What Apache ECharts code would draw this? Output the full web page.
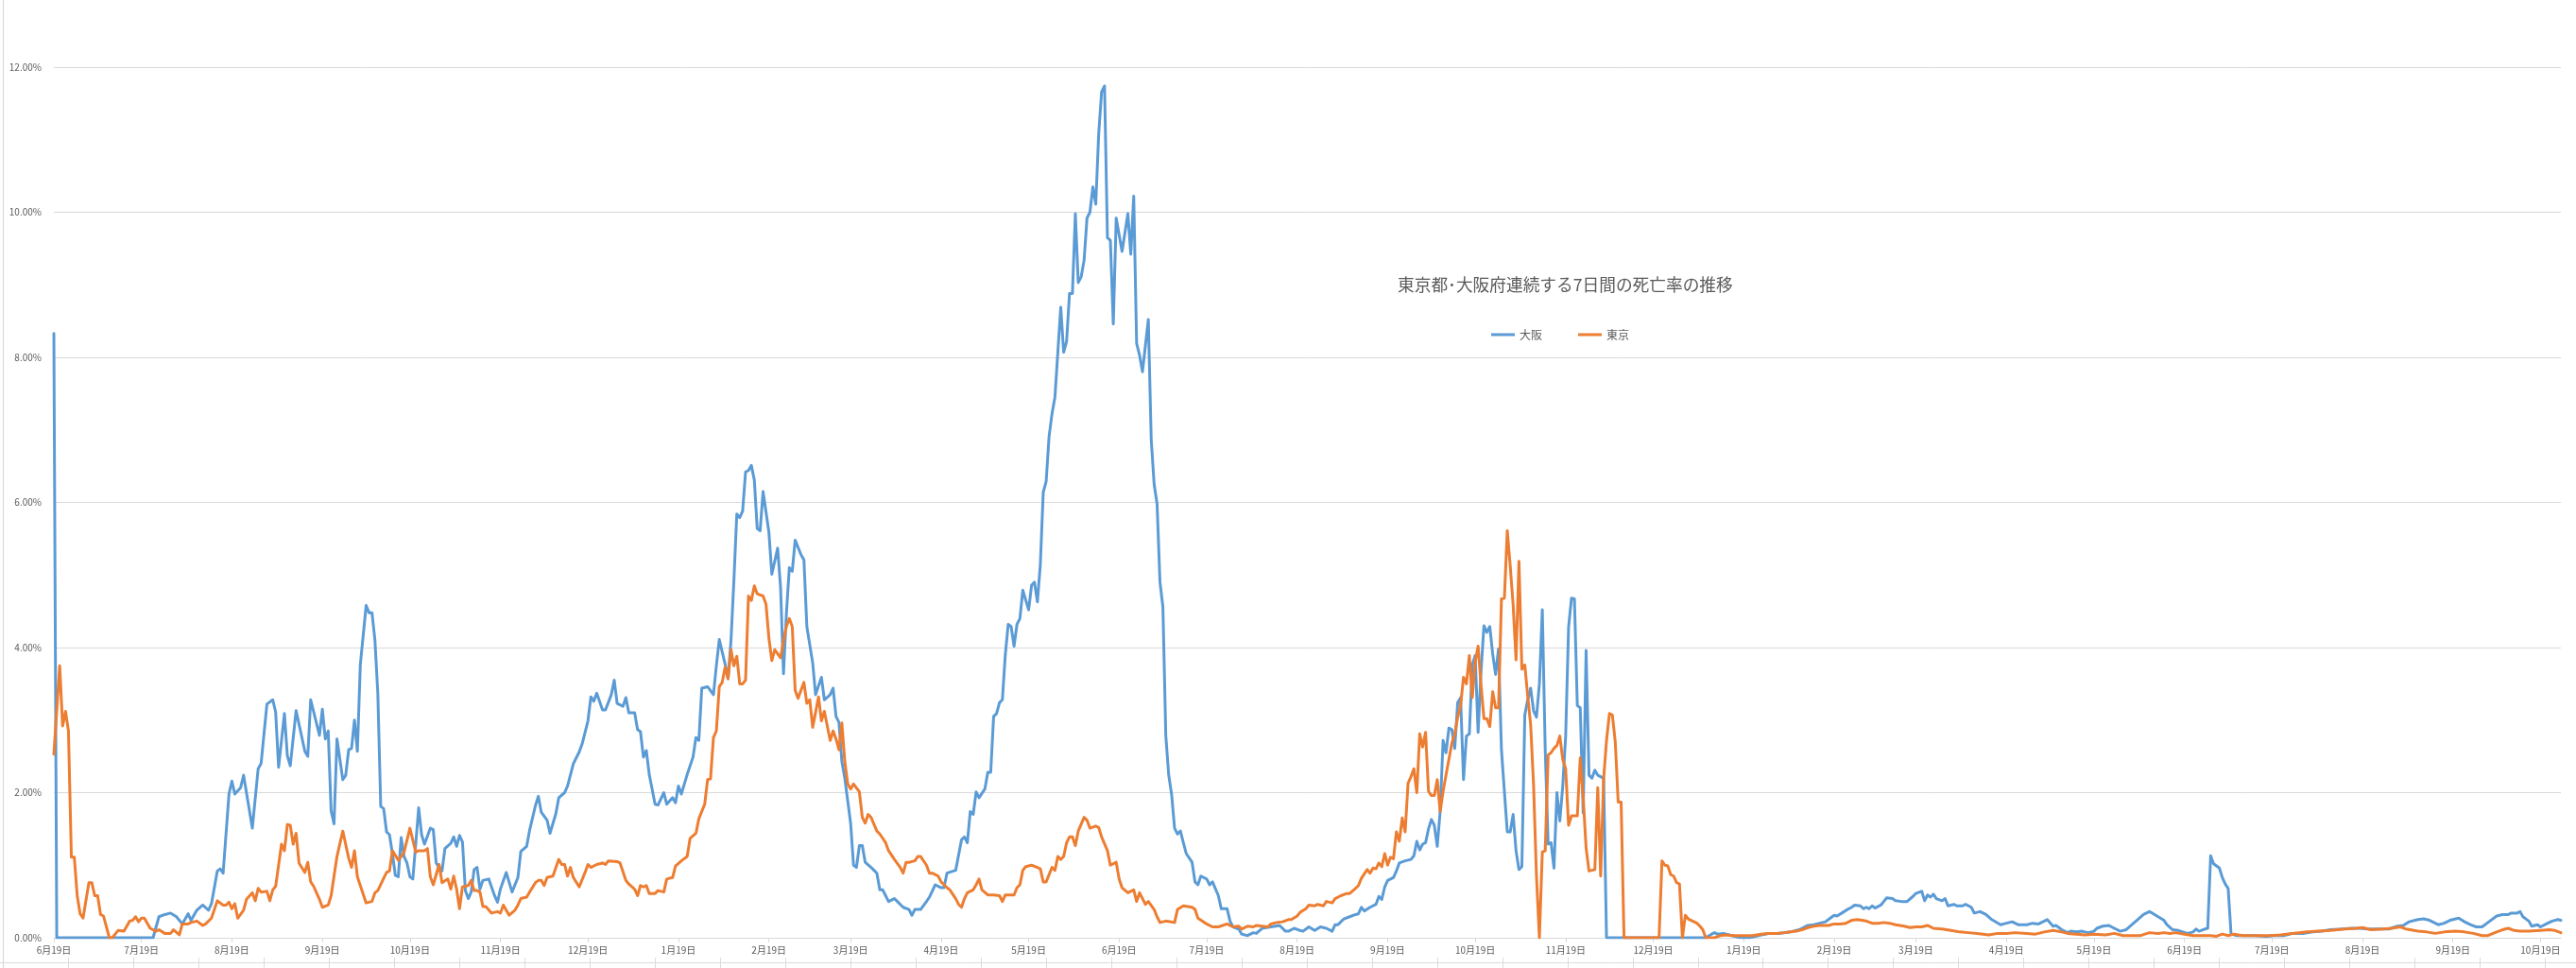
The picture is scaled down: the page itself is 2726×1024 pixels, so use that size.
<!DOCTYPE html>
<html>
<head>
<meta charset="utf-8">
<script src="https://cdn.jsdelivr.net/npm/echarts@6/dist/echarts.min.js"></script>
<style>
html,body{margin:0;padding:0;background:#ffffff;}
#chart{width:2726px;height:1024px;}
</style>
</head>
<body>
<div id="chart"></div>
<script>
// ---- data ----
const titleText = '東京都･大阪府連続する7日間の死亡率の推移';
const seriesNames = ['大阪', '東京'];
const startYear = 2020, startMonth = 6, startDay = 19;   // first date of the axis
const dayCount = 860;                                      // daily categories
const yTickValues = [0, 2, 4, 6, 8, 10, 12];               // percent

// [day index from 2020-06-19, rate in %]
const osakaPoints = [
[0,8.33],[1,0],[34,0],[36,0.29],[38,0.32],[40,0.34],[42,0.29],[44,0.19],[46,0.33],[47,0.24],[49,0.38],[51,0.45],[53,0.38],[54,0.47],[56,0.92],[57,0.95],[58,0.89],[60,1.98],[61,2.16],[62,1.98],[64,2.07],[65,2.24],[68,1.51],[70,2.33],[71,2.40],[73,3.22],[75,3.28],[76,3.11],[77,2.35],[79,3.09],[80,2.51],[81,2.37],[83,3.13],[86,2.57],[87,2.50],[88,3.28],[91,2.79],[92,3.15],[93,2.74],[94,2.85],[95,1.75],[96,1.57],[97,2.74],[99,2.18],[100,2.24],[101,2.59],[102,2.61],[103,3.00],[104,2.57],[105,3.76],[107,4.58],[108,4.48],[109,4.48],[110,4.11],[111,3.37],[112,1.81],[113,1.78],[114,1.46],[115,1.42],[116,1.16],[117,0.86],[118,0.84],[119,1.38],[120,1.12],[121,1.03],[122,0.84],[123,0.81],[125,1.79],[126,1.42],[127,1.29],[129,1.51],[130,1.49],[131,1.03],[132,0.97],[133,0.92],[134,1.23],[136,1.30],[137,1.39],[138,1.26],[139,1.41],[140,1.32],[141,0.65],[142,0.54],[143,0.63],[144,0.94],[145,0.97],[146,0.67],[147,0.79],[149,0.81],[151,0.58],[152,0.49],[153,0.67],[155,0.90],[157,0.63],[159,0.83],[160,1.19],[162,1.26],[163,1.48],[165,1.82],[166,1.95],[167,1.73],[169,1.62],[170,1.44],[172,1.71],[173,1.93],[175,2.00],[176,2.09],[178,2.40],[180,2.56],[181,2.67],[183,2.99],[184,3.32],[185,3.26],[186,3.37],[188,3.14],[189,3.14],[191,3.35],[192,3.55],[193,3.23],[195,3.19],[196,3.31],[197,3.10],[199,3.10],[200,2.87],[201,2.84],[202,2.49],[203,2.58],[204,2.25],[206,1.84],[207,1.83],[209,2.00],[210,1.84],[212,1.93],[213,1.86],[214,2.09],[215,1.98],[217,2.25],[219,2.49],[220,2.76],[221,2.72],[222,3.44],[224,3.46],[226,3.35],[227,3.75],[228,4.11],[230,3.77],[231,3.57],[232,4.09],[233,4.92],[234,5.84],[235,5.79],[236,5.88],[237,6.42],[238,6.44],[239,6.51],[240,6.31],[241,5.64],[242,5.61],[243,6.15],[245,5.59],[246,5.01],[248,5.37],[249,4.83],[250,3.64],[251,4.47],[252,5.10],[253,5.05],[254,5.48],[256,5.28],[257,5.21],[258,4.29],[260,3.79],[261,3.35],[263,3.59],[264,3.28],[266,3.35],[267,3.44],[268,3.05],[269,2.97],[270,2.43],[271,2.20],[273,1.58],[274,1.00],[275,0.97],[276,1.27],[277,1.27],[278,1.04],[280,0.97],[281,0.93],[282,0.89],[283,0.66],[284,0.66],[285,0.58],[286,0.50],[288,0.54],[289,0.50],[291,0.42],[293,0.39],[294,0.31],[295,0.39],[297,0.39],[299,0.50],[300,0.56],[302,0.73],[304,0.69],[305,0.69],[306,0.89],[309,0.93],[311,1.35],[312,1.39],[313,1.31],[314,1.74],[315,1.70],[316,2.01],[317,1.93],[319,2.05],[320,2.28],[321,2.28],[322,3.05],[323,3.09],[324,3.24],[325,3.28],[326,3.90],[327,4.32],[328,4.29],[329,4.02],[330,4.32],[331,4.40],[332,4.79],[334,4.52],[335,4.86],[336,4.90],[337,4.63],[338,5.14],[339,6.14],[340,6.29],[341,6.91],[342,7.22],[343,7.45],[344,8.07],[345,8.69],[346,8.07],[347,8.22],[348,8.88],[349,8.88],[350,9.98],[351,9.03],[352,9.11],[353,9.34],[354,9.92],[355,10.00],[356,10.35],[357,10.11],[358,11.08],[359,11.66],[360,11.74],[361,9.65],[362,9.61],[363,8.46],[364,9.92],[365,9.69],[366,9.46],[368,9.98],[369,9.42],[370,10.22],[371,8.19],[372,8.03],[373,7.80],[375,8.52],[376,6.87],[377,6.25],[378,5.98],[379,4.90],[380,4.56],[381,2.78],[382,2.24],[383,1.97],[384,1.51],[385,1.43],[386,1.47],[387,1.31],[388,1.16],[390,1.04],[391,0.77],[392,0.73],[393,0.85],[395,0.81],[396,0.73],[397,0.77],[399,0.58],[400,0.40],[402,0.40],[403,0.23],[404,0.15],[406,0.12],[407,0.05],[409,0.03],[411,0.07],[412,0.06],[414,0.13],[417,0.15],[420,0.17],[422,0.09],[423,0.09],[425,0.13],[427,0.10],[428,0.09],[430,0.15],[432,0.10],[434,0.15],[436,0.13],[438,0.09],[439,0.18],[440,0.18],[442,0.26],[444,0.29],[446,0.32],[447,0.33],[448,0.42],[449,0.37],[451,0.42],[453,0.46],[454,0.57],[455,0.53],[456,0.70],[457,0.79],[459,0.83],[460,0.92],[461,1.03],[463,1.06],[465,1.08],[466,1.13],[467,1.33],[468,1.21],[469,1.29],[470,1.31],[471,1.50],[472,1.63],[473,1.55],[474,1.26],[475,1.74],[476,2.72],[477,2.55],[478,2.89],[479,2.87],[480,2.61],[481,3.24],[482,3.31],[483,2.18],[484,2.78],[485,2.81],[486,3.76],[487,3.89],[488,2.83],[489,3.67],[490,4.30],[491,4.21],[492,4.29],[493,3.91],[494,3.63],[495,3.98],[496,2.59],[497,2.02],[498,1.46],[499,1.46],[500,1.70],[501,1.20],[502,0.94],[503,0.98],[504,3.07],[505,3.28],[506,3.44],[507,3.13],[508,3.04],[509,3.50],[510,4.52],[511,2.59],[512,1.29],[513,1.31],[514,0.96],[515,2.00],[516,1.61],[517,2.09],[518,2.78],[519,4.28],[520,4.68],[521,4.67],[522,3.20],[523,3.17],[524,1.72],[525,3.96],[526,2.24],[527,2.20],[528,2.31],[529,2.24],[530,2.22],[531,2.20],[532,0],[566,0],[568,0.05],[569,0.07],[570,0.05],[572,0.06],[573,0.05],[575,0.03],[576,0.02],[578,0],[581,0],[583,0.02],[585,0.04],[588,0.06],[591,0.06],[595,0.08],[598,0.11],[601,0.17],[603,0.18],[605,0.20],[607,0.22],[609,0.28],[610,0.31],[611,0.30],[613,0.35],[615,0.40],[616,0.42],[617,0.45],[619,0.44],[620,0.40],[621,0.42],[622,0.40],[623,0.44],[624,0.41],[626,0.45],[627,0.50],[628,0.55],[630,0.54],[631,0.51],[633,0.50],[635,0.50],[637,0.57],[638,0.61],[640,0.64],[641,0.51],[642,0.59],[643,0.56],[644,0.60],[645,0.54],[647,0.51],[648,0.54],[649,0.44],[651,0.46],[652,0.44],[654,0.44],[655,0.46],[657,0.42],[658,0.34],[660,0.36],[662,0.32],[664,0.25],[667,0.18],[669,0.20],[671,0.22],[673,0.18],[676,0.18],[678,0.20],[680,0.19],[682,0.23],[683,0.25],[685,0.16],[686,0.17],[688,0.11],[690,0.07],[691,0.09],[693,0.08],[695,0.09],[697,0.07],[699,0.09],[700,0.13],[702,0.16],[704,0.17],[706,0.13],[708,0.09],[710,0.11],[712,0.18],[714,0.25],[716,0.32],[718,0.36],[719,0.34],[721,0.29],[723,0.24],[724,0.18],[726,0.11],[728,0.10],[731,0.06],[733,0.08],[734,0.12],[735,0.09],[737,0.12],[738,0.13],[739,1.13],[740,1.02],[742,0.96],[743,0.83],[744,0.74],[745,0.68],[746,0.05],[748,0.03],[751,0.03],[754,0.03],[758,0.02],[761,0.03],[764,0.03],[767,0.06],[771,0.06],[774,0.08],[777,0.09],[780,0.11],[784,0.12],[787,0.13],[790,0.13],[793,0.12],[797,0.12],[800,0.12],[803,0.16],[805,0.17],[807,0.22],[810,0.25],[812,0.26],[814,0.24],[817,0.18],[819,0.20],[821,0.24],[824,0.27],[826,0.22],[828,0.18],[830,0.15],[832,0.15],[834,0.21],[837,0.30],[839,0.32],[841,0.32],[842,0.34],[844,0.34],[845,0.36],[846,0.29],[848,0.23],[849,0.16],[851,0.18],[852,0.15],[854,0.19],[856,0.23],[858,0.25],[859,0.24]
];

const tokyoPoints = [
[0,2.53],[2,3.75],[3,2.92],[4,3.12],[5,2.85],[6,1.11],[7,1.11],[8,0.58],[9,0.33],[10,0.27],[12,0.76],[13,0.76],[14,0.58],[15,0.58],[16,0.32],[17,0.30],[19,0],[20,0],[22,0.10],[24,0.09],[26,0.23],[27,0.24],[28,0.29],[29,0.22],[30,0.27],[31,0.27],[33,0.13],[35,0.09],[36,0.11],[38,0.06],[40,0.06],[41,0.11],[43,0.04],[44,0.19],[46,0.19],[47,0.21],[49,0.23],[51,0.17],[52,0.19],[54,0.27],[56,0.51],[58,0.45],[59,0.45],[60,0.49],[61,0.40],[62,0.47],[63,0.27],[65,0.38],[66,0.53],[68,0.62],[69,0.51],[70,0.68],[71,0.63],[73,0.64],[74,0.51],[75,0.66],[76,0.71],[78,1.29],[79,1.20],[80,1.56],[81,1.55],[82,1.29],[83,1.44],[84,1.03],[86,0.90],[87,1.04],[88,0.77],[89,0.71],[91,0.53],[92,0.42],[94,0.45],[95,0.58],[97,1.12],[99,1.47],[101,1.10],[102,0.97],[103,1.20],[104,0.84],[106,0.60],[107,0.48],[109,0.50],[110,0.62],[111,0.65],[113,0.82],[114,0.90],[115,0.92],[116,1.20],[118,1.07],[119,1.12],[120,1.18],[122,1.51],[124,1.18],[125,1.20],[127,1.20],[128,1.23],[129,0.84],[130,0.73],[132,1.01],[133,0.76],[135,0.81],[136,0.67],[137,0.85],[138,0.67],[139,0.40],[140,0.70],[142,0.72],[143,0.79],[144,0.65],[145,0.65],[146,0.63],[147,0.43],[148,0.43],[150,0.34],[152,0.36],[153,0.34],[154,0.45],[156,0.31],[158,0.38],[159,0.45],[160,0.54],[162,0.56],[163,0.63],[165,0.76],[166,0.79],[167,0.79],[168,0.72],[169,0.83],[171,0.85],[173,1.08],[174,1.01],[175,1.01],[176,0.85],[177,0.97],[178,0.83],[180,0.70],[182,0.90],[183,1.01],[184,0.97],[186,1.01],[188,1.03],[189,1.01],[190,1.06],[193,1.05],[194,1.03],[196,0.79],[197,0.74],[199,0.67],[200,0.58],[201,0.72],[202,0.70],[203,0.72],[204,0.61],[206,0.61],[207,0.65],[209,0.63],[210,0.81],[212,0.83],[213,0.99],[215,1.06],[217,1.12],[218,1.37],[220,1.44],[221,1.64],[223,1.84],[224,2.18],[225,2.19],[226,2.76],[227,2.85],[228,3.46],[229,3.52],[230,3.73],[231,3.57],[232,3.97],[233,3.75],[234,3.88],[235,3.50],[236,3.50],[237,3.55],[238,4.71],[239,4.65],[240,4.85],[241,4.74],[243,4.71],[244,4.60],[245,4.13],[246,3.82],[247,3.97],[249,3.86],[250,4.09],[251,4.29],[252,4.40],[253,4.29],[254,3.41],[255,3.30],[257,3.52],[258,3.23],[259,3.28],[260,2.90],[262,3.32],[263,2.99],[264,3.12],[266,2.72],[267,2.85],[268,2.74],[269,2.59],[270,2.96],[271,2.43],[272,2.12],[273,2.05],[274,2.12],[276,2.01],[277,1.66],[278,1.58],[279,1.70],[280,1.66],[282,1.47],[283,1.43],[285,1.31],[286,1.20],[288,1.08],[290,0.97],[291,0.89],[292,1.04],[293,1.04],[295,1.06],[296,1.12],[297,1.12],[299,1.00],[300,0.89],[301,0.89],[303,0.85],[304,0.77],[306,0.69],[307,0.66],[309,0.54],[310,0.46],[311,0.42],[312,0.54],[313,0.62],[315,0.66],[316,0.73],[317,0.81],[318,0.66],[320,0.59],[322,0.59],[324,0.58],[325,0.50],[326,0.59],[329,0.59],[330,0.69],[331,0.73],[332,0.93],[333,0.98],[335,1.00],[337,0.97],[338,0.95],[339,0.77],[340,0.77],[342,0.97],[343,0.93],[344,1.12],[345,1.08],[346,1.12],[347,1.31],[348,1.39],[349,1.39],[350,1.27],[351,1.47],[353,1.66],[354,1.62],[355,1.51],[357,1.54],[358,1.52],[359,1.39],[361,1.20],[362,1.00],[364,1.04],[365,0.81],[366,0.69],[368,0.62],[370,0.66],[371,0.50],[372,0.62],[374,0.46],[375,0.50],[377,0.39],[378,0.29],[379,0.21],[381,0.23],[384,0.21],[385,0.39],[387,0.44],[390,0.42],[391,0.39],[392,0.27],[395,0.19],[397,0.15],[399,0.15],[402,0.19],[404,0.15],[406,0.16],[407,0.12],[409,0.16],[411,0.15],[412,0.17],[414,0.16],[416,0.15],[417,0.19],[419,0.21],[421,0.22],[423,0.25],[424,0.25],[426,0.30],[427,0.35],[429,0.40],[430,0.45],[432,0.44],[433,0.46],[435,0.44],[436,0.50],[438,0.48],[439,0.54],[441,0.58],[443,0.61],[444,0.61],[446,0.68],[447,0.72],[448,0.82],[450,0.94],[451,0.89],[452,0.96],[453,0.95],[454,1.03],[455,0.98],[456,1.16],[457,1.00],[458,1.11],[459,1.09],[460,1.46],[461,1.33],[462,1.65],[463,1.46],[464,2.13],[465,2.22],[466,2.33],[467,2.00],[468,2.81],[469,2.63],[470,2.83],[471,2.02],[472,1.96],[473,1.96],[474,2.18],[475,1.74],[476,2.02],[477,2.24],[479,2.68],[480,2.81],[481,3.04],[482,3.20],[483,3.59],[484,3.50],[485,3.89],[486,3.31],[487,3.80],[488,4.02],[489,3.48],[490,3.02],[491,3.02],[492,2.91],[493,3.39],[494,3.17],[495,3.17],[496,4.67],[497,4.68],[498,5.61],[499,5.13],[500,4.59],[501,3.83],[502,5.19],[503,3.70],[504,3.76],[505,3.33],[506,2.94],[507,2.11],[508,0.85],[509,0],[510,1.18],[511,1.20],[512,2.52],[513,2.55],[514,2.61],[515,2.65],[516,2.78],[517,2.46],[518,2.33],[519,1.55],[520,1.68],[522,1.68],[523,2.48],[524,1.94],[525,1.24],[526,0.92],[528,0.94],[529,2.07],[530,0.85],[531,2.18],[532,2.72],[533,3.09],[534,3.07],[535,2.70],[536,1.87],[537,1.87],[538,0],[550,0],[551,1.06],[552,1.00],[553,0.99],[554,0.87],[555,0.85],[556,0.76],[557,0.74],[558,0],[559,0.31],[560,0.26],[561,0.24],[562,0.22],[563,0.20],[564,0.16],[565,0.11],[566,0],[569,0],[571,0.03],[573,0.04],[575,0.03],[577,0.03],[580,0.03],[582,0.03],[585,0.05],[587,0.06],[590,0.06],[593,0.07],[595,0.08],[597,0.09],[599,0.11],[601,0.14],[603,0.16],[605,0.17],[608,0.17],[610,0.19],[612,0.19],[614,0.20],[616,0.24],[618,0.25],[621,0.23],[623,0.20],[625,0.20],[627,0.21],[629,0.20],[631,0.18],[634,0.16],[636,0.14],[638,0.15],[640,0.15],[642,0.17],[644,0.13],[647,0.12],[650,0.10],[653,0.08],[656,0.07],[659,0.06],[663,0.04],[666,0.06],[669,0.06],[672,0.07],[676,0.06],[679,0.05],[682,0.08],[685,0.10],[688,0.08],[690,0.06],[693,0.05],[696,0.04],[699,0.05],[703,0.04],[706,0.06],[709,0.03],[712,0.03],[715,0.03],[718,0.07],[721,0.06],[723,0.07],[725,0.06],[727,0.07],[730,0.05],[733,0.03],[736,0.03],[739,0.03],[741,0.02],[743,0.05],[745,0.03],[747,0.05],[750,0.03],[755,0.03],[759,0.03],[763,0.04],[767,0.06],[772,0.08],[776,0.09],[780,0.10],[785,0.12],[789,0.13],[791,0.14],[794,0.11],[798,0.12],[801,0.13],[804,0.15],[806,0.12],[810,0.09],[813,0.08],[816,0.06],[819,0.08],[823,0.09],[826,0.08],[829,0.06],[832,0.03],[834,0.03],[837,0.08],[839,0.11],[841,0.13],[843,0.10],[845,0.09],[848,0.09],[852,0.10],[855,0.11],[857,0.10],[859,0.07]
];

// ---- categories (one per day) ----
const dateCategories = [];
for (let i = 0; i < dayCount; i++) {
  const d = new Date(startYear, startMonth - 1, startDay + i);
  dateCategories.push(d.getFullYear() + '-' + (d.getMonth() + 1) + '-' + d.getDate());
}
const isMonthMark = (idx, val) => String(val).split('-')[2] === '19';

const FONT = '"Noto Sans CJK JP", "Noto Sans", sans-serif';
const GRAY_TEXT = '#595959';
const GRID_GRAY = '#d9d9d9';

// spreadsheet cell lines around the embedded chart (decoration)
const sheetLines = [
  { type: 'line', shape: { x1: 3.5, y1: 0, x2: 3.5, y2: 1024 }, style: { stroke: '#d4d4d4', lineWidth: 1 }, silent: true },
  { type: 'line', shape: { x1: 0, y1: 1018.5, x2: 2726, y2: 1018.5 }, style: { stroke: '#dcdcdc', lineWidth: 1 }, silent: true }
];
for (let x = 72; x < 2726; x += 68.98) {
  const xx = Math.round(x) + 0.5;
  sheetLines.push({ type: 'line', shape: { x1: xx, y1: 1013, x2: xx, y2: 1024 }, style: { stroke: '#dcdcdc', lineWidth: 1 }, silent: true });
}

const chart = echarts.init(document.getElementById('chart'), null, { renderer: 'canvas' });
chart.setOption({
  animation: false,
  backgroundColor: '#ffffff',
  title: {
    text: titleText,
    left: 1479,
    top: 292,
    padding: 0,
    textStyle: { fontFamily: FONT, fontSize: 17.7, fontWeight: 'normal', color: GRAY_TEXT }
  },
  legend: {
    data: seriesNames,
    left: 1578,
    top: 348,
    padding: 0,
    icon: 'rect',
    itemWidth: 25,
    itemHeight: 3,
    itemGap: 38,
    textStyle: { fontFamily: FONT, fontSize: 12, color: GRAY_TEXT }
  },
  grid: { left: 57, right: 16, top: 71, bottom: 32 },
  xAxis: {
    type: 'category',
    data: dateCategories,
    boundaryGap: false,
    axisLine: { show: true, lineStyle: { color: GRID_GRAY, width: 1 } },
    axisTick: { show: true, interval: isMonthMark, length: 5, lineStyle: { color: GRID_GRAY } },
    axisLabel: {
      interval: isMonthMark,
      margin: 8,
      fontFamily: FONT,
      fontSize: 10,
      color: GRAY_TEXT,
      formatter: (v) => { const p = v.split('-'); return p[1] + '月' + p[2] + '日'; }
    },
    splitLine: { show: false }
  },
  yAxis: {
    type: 'value',
    min: yTickValues[0],
    max: yTickValues[yTickValues.length - 1],
    interval: yTickValues[1] - yTickValues[0],
    axisLine: { show: false },
    axisTick: { show: false },
    axisLabel: {
      margin: 13,
      fontFamily: FONT,
      fontSize: 10,
      color: GRAY_TEXT,
      formatter: (v) => v.toFixed(2) + '%'
    },
    splitLine: { show: true, lineStyle: { color: GRID_GRAY, width: 1 } }
  },
  series: [
    {
      name: seriesNames[0],
      type: 'line',
      data: osakaPoints,
      showSymbol: false,
      symbol: 'none',
      color: '#5B9BD5',
      lineStyle: { width: 3, color: '#5B9BD5', join: 'round', cap: 'round' },
      z: 2
    },
    {
      name: seriesNames[1],
      type: 'line',
      data: tokyoPoints,
      showSymbol: false,
      symbol: 'none',
      color: '#ED7D31',
      lineStyle: { width: 3, color: '#ED7D31', join: 'round', cap: 'round' },
      z: 3
    }
  ],
  graphic: sheetLines
});
</script>
</body>
</html>
